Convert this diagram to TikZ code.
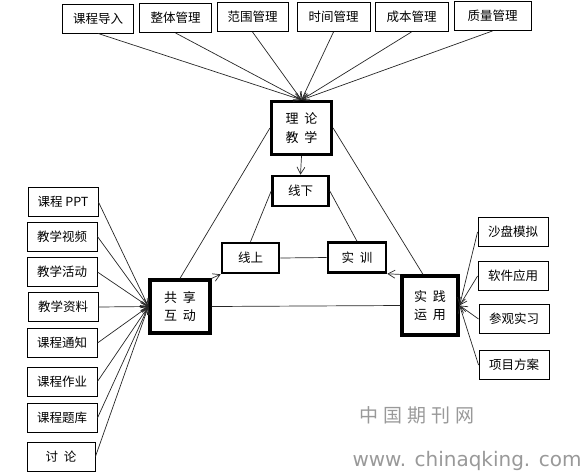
\documentclass[tikz,border=0pt]{standalone}
\usepackage{fontspec}
\setmainfont{Noto Sans CJK SC}
\newfontfamily\markfont{DejaVu Sans}
\usepackage{tikz}
\usetikzlibrary{arrows.meta}
\tikzset{
  leaf box/.style={
    rectangle,
    draw=black,
    line width=0.9pt,
    minimum height=29pt,
    minimum width=70pt,
    inner sep=2pt,
    font=\fontsize{12.5}{14}\selectfont,
  },
  mid box/.style={
    rectangle,
    draw=black,
    line width=2.6pt,
    minimum height=30pt,
    minimum width=56pt,
    inner sep=2pt,
    font=\fontsize{12.5}{14}\selectfont,
  },
  core box/.style={
    rectangle,
    draw=black,
    line width=3.2pt,
    minimum height=53pt,
    minimum width=60pt,
    inner sep=2pt,
    align=center,
    font=\fontsize{13}{18.5}\selectfont,
  },
  feed arrow/.style={-{Straight Barb[length=7pt,width=8pt]}, line width=0.7pt, black!85},
  link line/.style={line width=0.7pt, black!85},
  mark text/.style={text=black!40, inner sep=0pt},
}

\begin{document}
\begin{tikzpicture}[x=1pt,y=-1pt]
  \useasboundingbox (0,0) rectangle (583,475);

  % three core parts
  \node[core box] (theory) at (301.5,128) {理\hspace{0.45em}论\\教\hspace{0.45em}学};
  \node[core box] (share) at (180,306.5) {共\hspace{0.45em}享\\互\hspace{0.45em}动};
  \node[core box,minimum width=56pt,minimum height=59pt] (practice) at (430,305.5) {实\hspace{0.45em}践\\运\hspace{0.45em}用};

  % inner triangle
  \node[mid box] (offline) at (300.5,191) {线下};
  \node[mid box,minimum width=57pt] (online) at (250.5,258) {线上};
  \node[mid box,minimum width=58pt] (train) at (357,257.5) {实\hspace{0.45em}训};

  % top row
  \node[leaf box,minimum width=71pt] (t1) at (98,18.5) {课程导入};
  \node[leaf box,minimum width=72pt] (t2) at (175.5,18) {整体管理};
  \node[leaf box,minimum width=71pt] (t3) at (252.5,17) {范围管理};
  \node[leaf box,minimum width=73pt] (t4) at (333.5,17) {时间管理};
  \node[leaf box,minimum width=73pt] (t5) at (411.5,17) {成本管理};
  \node[leaf box,minimum width=77pt] (t6) at (492.5,16) {质量管理};

  % left column
  \node[leaf box] (s1) at (63,202) {课程 PPT};
  \node[leaf box] (s2) at (62,236.5) {教学视频};
  \node[leaf box] (s3) at (62,272) {教学活动};
  \node[leaf box] (s4) at (63,307) {教学资料};
  \node[leaf box] (s5) at (62,343) {课程通知};
  \node[leaf box] (s6) at (62,381.5) {课程作业};
  \node[leaf box] (s7) at (62,418) {课程题库};
  \node[leaf box,minimum width=68pt] (s8) at (61,456.5) {讨\hspace{0.45em}论};

  % right column
  \node[leaf box] (r1) at (513,232) {沙盘模拟};
  \node[leaf box] (r2) at (513,276) {软件应用};
  \node[leaf box] (r3) at (514,319) {参观实习};
  \node[leaf box] (r4) at (514,365) {项目方案};

  % watermark
  \node[mark text,font=\fontsize{19}{20}\selectfont] (wm1) at (417,415)
    {中\hspace{5pt}国\hspace{5pt}期\hspace{5pt}刊\hspace{5pt}网};
  \node[mark text,font=\fontsize{20}{22}\markfont] (wm2) at (467,461) {www. chinaqking. com};

  \foreach \n in {t1,t2,t3,t4,t5,t6}
    \draw[feed arrow] (\n.south) -- (theory.north);
  \foreach \n in {s1,s2,s3,s4,s5,s6,s7,s8}
    \draw[feed arrow] (\n.east) -- (share.west);
  \foreach \n in {r1,r2,r3,r4}
    \draw[feed arrow] (\n.west) -- (practice.east);

  \draw[link line] (theory.west) -- (share.north);
  \draw[link line] (theory.east) -- ([xshift=-7pt]practice.north);
  \draw[link line] (share.east) -- (practice.west);

  \draw[feed arrow] (theory.south) -- (offline.north);
  \draw[link line] (offline.west) -- (online.north);
  \draw[link line] (offline.east) -- (train.north);
  \draw[link line] (online.east) -- (train.west);
  \draw[feed arrow] (share.north east) -- (online.south west);
  \draw[feed arrow] (practice.north west) -- (train.south east);
\end{tikzpicture}
\end{document}
